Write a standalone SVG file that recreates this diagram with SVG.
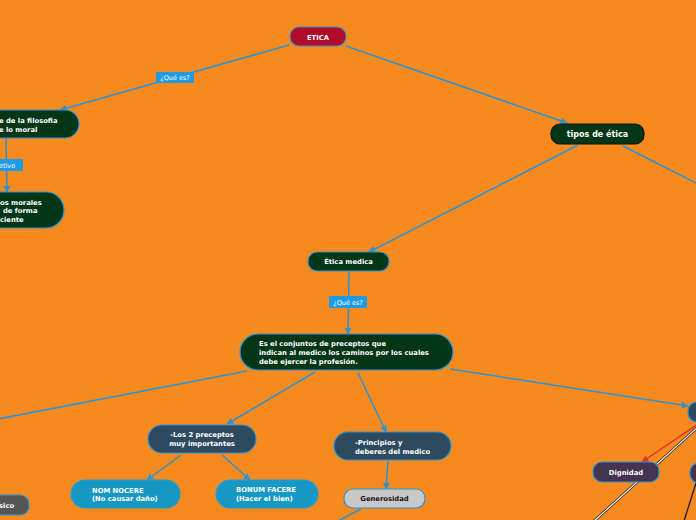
<svg xmlns="http://www.w3.org/2000/svg" width="696" height="520" viewBox="0 0 696 520">
<defs>
<marker id="ab" viewBox="0 0 10 10" refX="9" refY="5" markerWidth="7" markerHeight="7" orient="auto" markerUnits="userSpaceOnUse"><path d="M0,0 L10,5 L0,10 z" fill="#2A93D5"/></marker>
<marker id="ar" viewBox="0 0 10 10" refX="9" refY="5" markerWidth="7" markerHeight="7" orient="auto" markerUnits="userSpaceOnUse"><path d="M0,0 L10,5 L0,10 z" fill="#E8302A"/></marker>
<style>
.c{stroke:#2A93D5;stroke-width:1.5;fill:none}
.t{font-family:"DejaVu Sans",Verdana,sans-serif;font-weight:bold;font-size:6.8px;fill:#fff}
.l{font-family:"DejaVu Sans",Verdana,sans-serif;font-size:6.5px;fill:#fff}
.g{fill:#033616;stroke:#2A93D5;stroke-width:1.2}
.s{fill:#2D4A5E;stroke:#2A93D5;stroke-width:1.2}
.b{fill:#1599C4;stroke:#2A9BD5;stroke-width:1.2}
.p{fill:#45344F;stroke:#2A93D5;stroke-width:1.2}
.lb{fill:#1E9BE3}
</style>
</defs>
<rect width="696" height="520" fill="#F68A1F"/>
<g id="connectors">
<line class="c" x1="289" y1="45" x2="60" y2="110" marker-end="url(#ab)"/>
<line class="c" x1="346" y1="46" x2="567" y2="123" marker-end="url(#ab)"/>
<line class="c" x1="6" y1="138" x2="7" y2="192" marker-end="url(#ab)"/>
<line class="c" x1="578" y1="145" x2="369" y2="252" marker-end="url(#ab)"/>
<line class="c" x1="623" y1="146" x2="700" y2="185"/>
<line class="c" x1="349" y1="272" x2="348" y2="334" marker-end="url(#ab)"/>
<line class="c" x1="247" y1="371" x2="-2" y2="419"/>
<line class="c" x1="315" y1="372" x2="227" y2="424" marker-end="url(#ab)"/>
<line class="c" x1="358" y1="373" x2="386" y2="432" marker-end="url(#ab)"/>
<line class="c" x1="450" y1="369" x2="688" y2="406" marker-end="url(#ab)"/>
<line class="c" x1="181" y1="455" x2="147" y2="480" marker-end="url(#ab)"/>
<line class="c" x1="222" y1="455" x2="250" y2="480" marker-end="url(#ab)"/>
<line class="c" x1="388" y1="461" x2="386" y2="489" marker-end="url(#ab)"/>
<line class="c" x1="361" y1="509" x2="338" y2="521"/>
<line x1="698" y1="427" x2="593" y2="522" stroke="#222" stroke-width="2.6"/>
<line x1="698" y1="427" x2="593" y2="522" stroke="#fff" stroke-width="1.2"/>
<line x1="698" y1="424" x2="642" y2="462" stroke="#E8302A" stroke-width="1.3" marker-end="url(#ar)"/>
<line x1="696" y1="483" x2="684" y2="521" stroke="#1a1a1a" stroke-width="1.3"/>
<g id="label1"><rect class="lb" x="156" y="72" width="38" height="11"/><text class="l" x="175" y="80" text-anchor="middle">¿Qué es?</text></g>
<g id="label2"><rect class="lb" x="-20" y="159" width="43" height="12"/><text class="l" x="-1" y="167.5">etivo</text></g>
<g id="label3"><rect class="lb" x="329" y="296" width="38" height="12"/><text class="l" x="348" y="304.5" text-anchor="middle">¿Qué es?</text></g>
</g>
<g id="etica"><rect x="290" y="27" width="56" height="19" rx="9" fill="#B00C2A" stroke="#2A93D5" stroke-width="1.2"/><text class="t" x="318" y="39.5" text-anchor="middle">ETICA</text></g>
<g id="filosofia"><rect class="g" x="-70" y="110" width="149" height="28" rx="14"/><text class="t" x="-1" y="122.5">e de la filosofia</text><text class="t" x="-1" y="131.5">e lo moral</text></g>
<g id="morales"><rect class="g" x="-60" y="192" width="124" height="36" rx="18"/><text class="t" x="0" y="204.5">os morales</text><text class="t" x="3" y="213">de forma</text><text class="t" x="0" y="221.5">ciente</text></g>
<g id="tipos"><rect x="551" y="124" width="93" height="20" rx="9" fill="#033616" stroke="#111" stroke-width="1.2"/><text class="t" x="597.5" y="136.8" text-anchor="middle" style="font-size:8px">tipos de ética</text></g>
<g id="etica-medica"><rect class="g" x="308" y="252" width="81" height="19" rx="9"/><text class="t" x="348.5" y="264.3" text-anchor="middle">Ética medica</text></g>
<g id="conjuntos"><rect class="g" x="240" y="334" width="213" height="36" rx="18"/><text class="t" x="259" y="346">Es el conjuntos de preceptos que</text><text class="t" x="259" y="355">indican al medico los caminos por los cuales</text><text class="t" x="259" y="364">debe ejercer la profesión.</text></g>
<g id="preceptos"><rect class="s" x="148" y="425" width="108" height="28" rx="14"/><text class="t" x="202" y="437" text-anchor="middle">-Los 2 preceptos</text><text class="t" x="202" y="446" text-anchor="middle">muy importantes</text></g>
<g id="nocere"><rect class="b" x="71" y="480" width="109" height="28" rx="14"/><text class="t" x="92" y="493">NOM NOCERE</text><text class="t" x="92" y="501">(No causar daño)</text></g>
<g id="facere"><rect class="b" x="216" y="480" width="102" height="28" rx="14"/><text class="t" x="236" y="492">BONUM FACERE</text><text class="t" x="236" y="500.5">(Hacer el bien)</text></g>
<g id="principios"><rect class="s" x="334" y="432" width="117" height="28" rx="14"/><text class="t" x="355" y="445">-Principios  y</text><text class="t" x="355" y="454">deberes del medico</text></g>
<g id="generosidad"><rect x="344" y="489" width="81" height="19" rx="9" fill="#C8C8C8" stroke="#2A93D5" stroke-width="1.2"/><text class="t" x="384.5" y="501" text-anchor="middle" style="fill:#111">Generosidad</text></g>
<g id="fisico"><rect x="-40" y="495" width="69" height="20" rx="9" fill="#555" stroke="#2A93D5" stroke-width="1.2"/><text class="t" x="-1" y="507.5">sico</text></g>
<g id="right1"><rect class="s" x="688" y="402" width="40" height="20" rx="9"/></g>
<g id="dignidad"><rect class="p" x="593" y="462" width="66" height="20" rx="9"/><text class="t" x="626" y="474.5" text-anchor="middle">Dignidad</text></g>
<g id="right2"><rect class="p" x="690" y="463" width="40" height="20" rx="9"/></g>
</svg>
